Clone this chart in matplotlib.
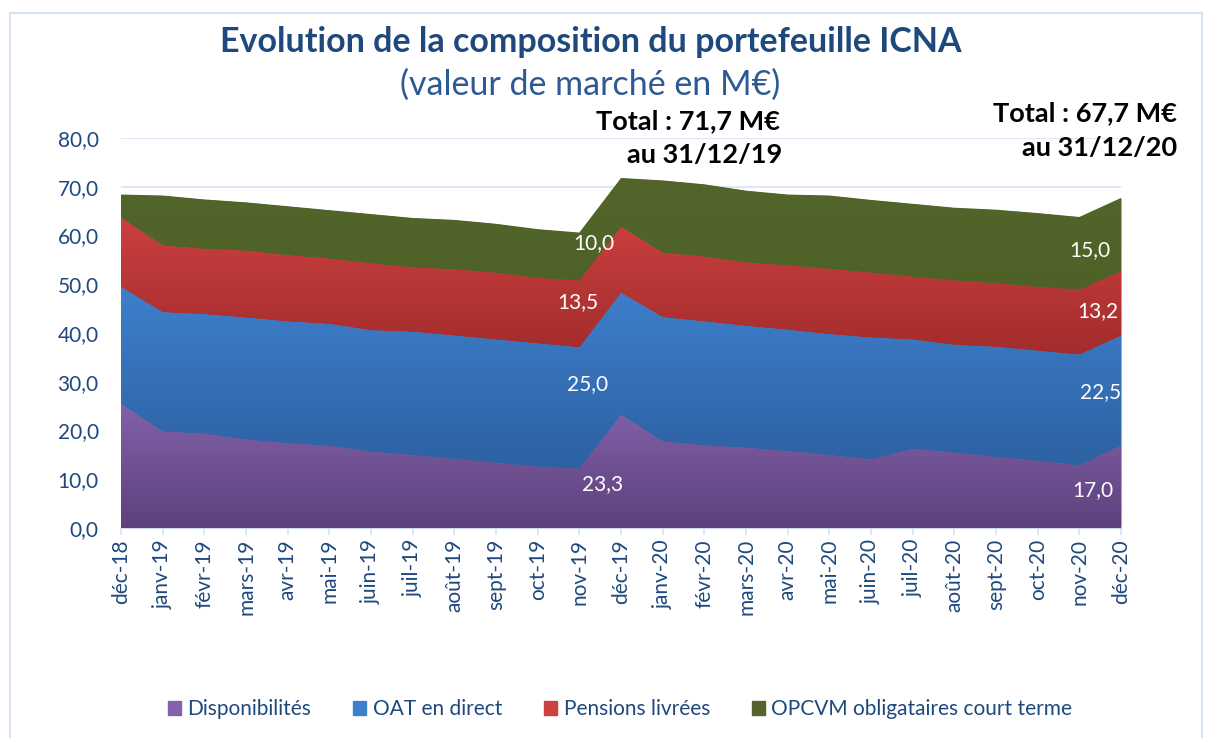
import numpy as np
import matplotlib
matplotlib.use('Agg')
from matplotlib import pyplot as plt
from matplotlib.colors import LinearSegmentedColormap
from matplotlib.patches import Rectangle

plt.rcParams['font.family'] = ['Lato', 'DejaVu Sans']

# mois
mois = ['déc-18', 'janv-19', 'févr-19', 'mars-19', 'avr-19', 'mai-19', 'juin-19',
        'juil-19', 'août-19', 'sept-19', 'oct-19', 'nov-19', 'déc-19', 'janv-20',
        'févr-20', 'mars-20', 'avr-20', 'mai-20', 'juin-20', 'juil-20', 'août-20',
        'sept-20', 'oct-20', 'nov-20', 'déc-20']
# valeurs en M€
disponibilites = [25.5, 19.8, 19.4, 18.2, 17.4, 16.9, 15.7, 15.0, 14.2, 13.4, 12.6, 12.2, 23.3,
                  17.8, 17.0, 16.5, 15.8, 15.0, 14.1, 16.3, 15.5, 14.6, 13.8, 12.9, 17.0]
oat_direct = [24.0, 24.5, 24.5, 25.0, 25.0, 25.0, 24.9, 25.3, 25.3, 25.3, 25.3, 24.9, 25.0,
              25.5, 25.4, 25.0, 24.9, 24.8, 25.0, 22.4, 22.1, 22.6, 22.6, 22.7, 22.5]
pensions = [14.2, 13.7, 13.4, 13.7, 13.6, 13.4, 13.7, 13.2, 13.6, 13.7, 13.4, 13.7, 13.5,
            13.2, 13.3, 13.0, 13.2, 13.4, 13.3, 12.9, 13.2, 13.0, 13.1, 13.3, 13.2]
opcvm = [4.7, 10.2, 10.1, 9.9, 10.0, 9.9, 10.1, 10.1, 10.1, 10.0, 10.0, 9.8, 10.0,
         14.8, 14.8, 14.7, 14.5, 15.0, 14.9, 14.9, 14.9, 15.1, 15.1, 14.9, 15.0]
series_names = ['Disponibilités', 'OAT en direct', 'Pensions livrées',
                'OPCVM obligataires court terme']

# couleurs (bas, haut) du dégradé
grad = [('#5d417c', '#8262aa'), ('#2d61a2', '#3e7fcb'),
        ('#a32c2c', '#cb4040'), ('#4e6228', '#53652b')]
navy = '#1f497d'

fig = plt.figure(figsize=(12.05, 7.38), dpi=100)
ax = fig.add_axes([121 / 1205, 1 - 528 / 738, 1000 / 1205, 390 / 738])

x = np.arange(len(mois))
data = np.array([disponibilites, oat_direct, pensions, opcvm])
cum = np.vstack([np.zeros(len(mois)), np.cumsum(data, axis=0)])

for k in range(4):
    lo, hi = cum[k], cum[k + 1]
    poly = ax.fill_between(x, lo, hi, color=grad[k][0], lw=0, zorder=2)
    cmap = LinearSegmentedColormap.from_list('g%d' % k, grad[k])
    g = np.linspace(0, 1, 256).reshape(-1, 1)
    im = ax.imshow(g, extent=[0, 24, lo.min(), hi.max()], origin='lower',
                   aspect='auto', cmap=cmap, zorder=3)
    im.set_clip_path(poly.get_paths()[0], transform=ax.transData)

ax.set_xlim(0, 24)
ax.set_ylim(0, 80)
yt = np.arange(0, 81, 10)
ax.set_yticks(yt)
ax.set_yticklabels([('%.1f' % v).replace('.', ',') for v in yt])
ax.set_xticks(x)
ax.set_xticklabels(mois, rotation=90)
ax.grid(axis='y', color='#d6e3f4', lw=1.2, zorder=0)
for s in ['top', 'right', 'left']:
    ax.spines[s].set_visible(False)
ax.spines['bottom'].set_color('#d6e3f4')
ax.spines['bottom'].set_linewidth(1.2)
ax.tick_params(axis='y', length=0, pad=16, labelsize=15, labelcolor=navy)
ax.tick_params(axis='x', length=5, color='#d6e3f4', width=1.2, pad=3,
               labelsize=15, labelcolor=navy)

# étiquettes de données
labels = [(11.55, 9.0, disponibilites[12]), (11.2, 29.6, oat_direct[12]),
          (10.97, 46.4, pensions[12]), (11.35, 58.5, opcvm[12]),
          (23.33, 7.8, disponibilites[24]), (23.5, 27.9, oat_direct[24]),
          (23.45, 44.5, pensions[24]), (23.25, 57.1, opcvm[24])]
for lx, ly, v in labels:
    ax.text(lx, ly, ('%.1f' % v).replace('.', ','), color='white', fontsize=15,
            ha='center', va='center', zorder=5)

# titres
fig.text(591 / 1205, 1 - 42 / 738, 'Evolution de la composition du portefeuille ICNA',
         ha='center', va='center', fontsize=24.5, fontweight='bold', color=navy)
fig.text(590 / 1205, 1 - 85 / 738, '(valeur de marché en M€)',
         ha='center', va='center', fontsize=24.5, color='#2e5a94')
fig.text(780 / 1205, 1 - 121 / 738, 'Total : 71,7 M€', ha='right', va='center',
         fontsize=19.5, fontweight='bold', color='black')
fig.text(782 / 1205, 1 - 155 / 738, 'au 31/12/19', ha='right', va='center',
         fontsize=19.5, fontweight='bold', color='black')
fig.text(1177 / 1205, 1 - 113 / 738, 'Total : 67,7 M€', ha='right', va='center',
         fontsize=19.5, fontweight='bold', color='black')
fig.text(1177 / 1205, 1 - 148 / 738, 'au 31/12/20', ha='right', va='center',
         fontsize=19.5, fontweight='bold', color='black')

# légende
handles = [Rectangle((0, 0), 1, 1, color=grad[k][1]) for k in range(4)]
leg = fig.legend(handles, series_names, loc='center', ncol=4,
                 bbox_to_anchor=(620 / 1205, 1 - 709 / 738), frameon=False,
                 fontsize=15, handlelength=0.65, handleheight=0.65,
                 handletextpad=0.3, columnspacing=2.0)
for t in leg.get_texts():
    t.set_color(navy)

# bordure du graphique
fig.add_artist(Rectangle((10 / 1205, -0.05), 1192 / 1205, 1.05 - 13 / 738,
                         transform=fig.transFigure, fill=False,
                         edgecolor='#d6e3f4', lw=1.5))

fig.savefig('out.png', dpi=100)
